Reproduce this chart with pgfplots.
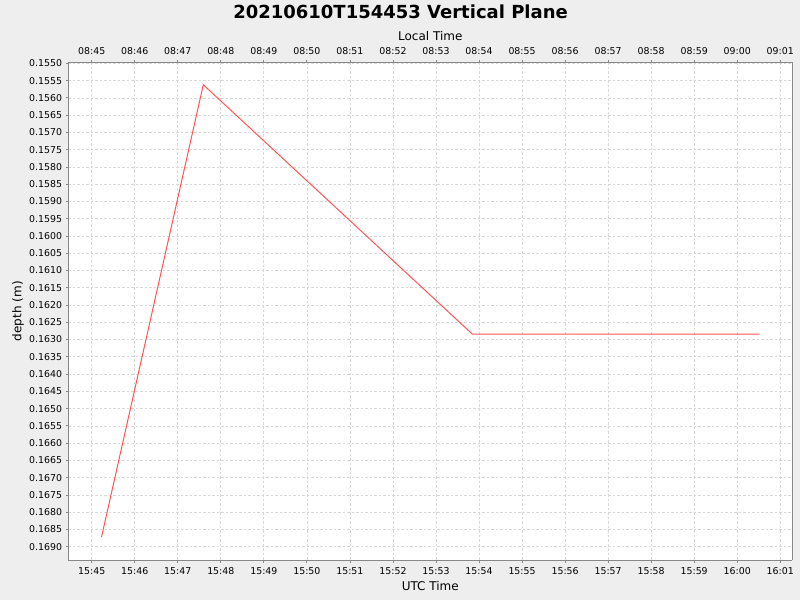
\documentclass[border=0pt]{standalone}
\usepackage{pgfplots}
\pgfplotsset{compat=1.18}
\usepackage{fontspec}
\setmainfont{DejaVu Sans}
\definecolor{bg}{HTML}{EEEEEE}
\definecolor{gridc}{HTML}{D8D8D8}
\definecolor{axc}{HTML}{888888}
\definecolor{linec}{HTML}{FF5555}
\begin{document}
\begin{tikzpicture}
\fill[bg] (0pt,0pt) rectangle (800pt,600pt);
\node[anchor=center,font=\fontsize{18}{20}\selectfont\bfseries] at (400.5pt,588pt) {20210610T154453 Vertical Plane};
\pgfplotsset{every axis/.style={
  at={(68.3pt,40pt)}, anchor=south west, scale only axis,
  width=724pt, height=497.7pt,
  xmin=-0.544, xmax=16.28,
  ymin=0.15497, ymax=0.169385, y dir=reverse,
  axis line style={axc, line width=1pt},
  tick style={axc, line width=0.8pt},
  tick align=outside, major tick length=2.5pt,
  xtick={0,1,...,16},
  ticklabel style={font=\fontsize{9.4}{11}\selectfont, text=black},
  label style={font=\fontsize{12}{14}\selectfont},
}}
\begin{axis}[
  axis background/.style={fill=white},
  axis x line*=bottom, axis y line*=left,
  clip=true,
  grid=major,
  major grid style={gridc, line width=0.7pt, dash pattern=on 2.5pt off 2pt},
  xticklabels={15:45,15:46,15:47,15:48,15:49,15:50,15:51,15:52,15:53,15:54,15:55,15:56,15:57,15:58,15:59,16:00,16:01},
  xticklabel style={inner sep=0pt, anchor=north, yshift=-4.5pt},
  ytick={0.1550,0.1555,0.1560,0.1565,0.1570,0.1575,0.1580,0.1585,0.1590,0.1595,0.1600,0.1605,0.1610,0.1615,0.1620,0.1625,0.1630,0.1635,0.1640,0.1645,0.1650,0.1655,0.1660,0.1665,0.1670,0.1675,0.1680,0.1685,0.1690},
  yticklabel style={inner sep=0pt, anchor=east, xshift=-3.5pt, /pgf/number format/.cd, fixed, fixed zerofill, precision=4, assume math mode=true},
  scaled y ticks=false,
  xlabel={UTC Time}, ylabel={depth (m)},
  xlabel style={at={(axis description cs:0.5,-0.0522)}, anchor=center},
  ylabel style={at={(axis description cs:-0.0695,0.5)}, anchor=center, rotate=0},
]
\addplot[linec, line width=1pt, mark=none] coordinates {
  (0.228,0.16872)
  (2.593,0.15562)
  (8.843,0.16284)
  (15.52,0.16284)
};
\end{axis}
\begin{axis}[
  axis x line*=top, axis y line*=right,
  ytick=\empty, yticklabels={},
  xticklabels={08:45,08:46,08:47,08:48,08:49,08:50,08:51,08:52,08:53,08:54,08:55,08:56,08:57,08:58,08:59,09:00,09:01},
  xticklabel style={inner sep=0pt, anchor=south, yshift=4.5pt},
  xlabel={Local Time},
  xlabel style={at={(axis description cs:0.5,1.0528)}, anchor=center},
]
\end{axis}
\end{tikzpicture}
\end{document}
